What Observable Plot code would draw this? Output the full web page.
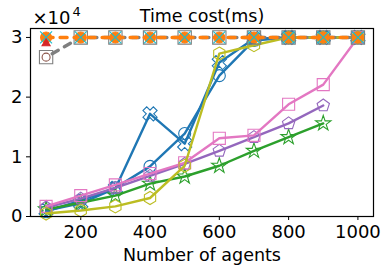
<!DOCTYPE html>
<html>
<head>
<meta charset="utf-8">
<script src="https://cdn.jsdelivr.net/npm/d3@7"></script>
<script src="https://cdn.jsdelivr.net/npm/@observablehq/plot@0.6"></script>
<style>
  html, body { margin: 0; padding: 0; background: white; }
</style>
</head>
<body>
<div id="chart"></div>
<script>
// ---- data ----
const agents = [100, 200, 300, 400, 500, 600, 700, 800, 900, 1000];
const xTicks = [200, 400, 600, 800, 1000];
const yTicks = [0, 10000, 20000, 30000];

const blueX   = [1000, 2200, 4700, 17200, 12200, 25800, 29800, 30000, 30000, 30000];
const blueO   = [800, 2700, 4800, 8400, 13900, 23600, 29500, 30000, 30000, 30000];
const olive   = [500, 1000, 1700, 3100, 8500, 27300, 28700, 30000, 30000, 30000];
const green   = [1200, 2300, 3500, 5500, 6700, 8500, 11000, 13300, 15600];
const purple  = [1500, 3000, 4800, 6800, 8800, 11000, 13300, 15600, 18600];
const pink    = [1700, 3500, 5300, 7200, 9000, 13100, 13600, 18800, 22100, 30000];
const gray    = [26700, 30000, 30000, 30000, 30000, 30000, 30000, 30000, 30000, 30000];
const orange  = [30000, 30000, 30000, 30000, 30000, 30000, 30000, 30000, 30000, 30000];
const cyan    = [30000, 30000, 30000, 30000, 30000, 30000, 30000, 30000, 30000, 30000];
const red     = [29000];
const brown   = [26700];

const title = "Time cost(ms)";
const xLabel = "Number of agents";

// ---- custom marker shapes ----
function polySymbol(pts) {
  return {
    draw(ctx, size) {
      const r = Math.sqrt(size / Math.PI);
      pts.forEach(([a, b], i) => i ? ctx.lineTo(a * r, b * r) : ctx.moveTo(a * r, b * r));
      ctx.closePath();
    }
  };
}
function regular(n, rot) {
  return d3.range(n).map(i => {
    const a = rot + i * 2 * Math.PI / n;
    return [Math.cos(a), Math.sin(a)];
  });
}
const pentagon = polySymbol(regular(5, -Math.PI / 2));
const hexagon = polySymbol(regular(6, -Math.PI / 2));
const xShape = (() => {
  const w = 0.36;
  const plus = [[w, 1], [w, w], [1, w], [1, -w], [w, -w], [w, -1], [-w, -1], [-w, -w], [-1, -w], [-1, w], [-w, w], [-w, 1]];
  const c = Math.SQRT1_2;
  return polySymbol(plus.map(([a, b]) => [(a - b) * c * 1.05, (a + b) * c * 1.05]));
})();

const toRows = (vals, name) => vals.map((v, i) => ({x: agents[i], y: v, s: name}));
const rBlueX = toRows(blueX, "bx");
const rBlueO = toRows(blueO, "bo");
const rOlive = toRows(olive, "ol");
const rGreen = toRows(green, "gr");
const rPurple = toRows(purple, "pu");
const rPink = toRows(pink, "pk");
const rGray = toRows(gray, "gy");
const rOrange = toRows(orange, "or");
const rCyan = toRows(cyan, "cy");
const rRed = toRows(red, "rd");
const rBrown = toRows(brown, "br");

const C = {
  blue: "#1f77b4", orange: "#ff7f0e", green: "#2ca02c", red: "#d62728",
  purple: "#9467bd", brown: "#8c564b", pink: "#e377c2", gray: "#7f7f7f",
  olive: "#bcbd22", cyan: "#17becf"
};

function series(rows, color, symbol, r, lineOpts = {}) {
  const marks = [];
  if (lineOpts.show !== false) {
    marks.push(Plot.line(rows, {x: "x", y: "y", stroke: color, strokeWidth: lineOpts.width ?? 2.4,
      strokeDasharray: lineOpts.dash, strokeDashoffset: lineOpts.offset}));
  }
  marks.push(Plot.dot(rows, {x: "x", y: "y", symbol: () => symbol, r, fill: lineOpts.fill ?? "none",
    stroke: color, strokeWidth: 1.1}));
  return marks;
}

const chart = Plot.plot({
  width: 391,
  height: 273,
  marginTop: 28,
  marginLeft: 30,
  marginRight: 18,
  marginBottom: 57,
  style: {fontFamily: "DejaVu Sans", fontSize: "18px", background: "white", color: "black"},
  x: {domain: [55, 1045]},
  y: {domain: [0, 31500]},
  symbol: {type: "identity"},
  marks: [
    Plot.axisX({ticks: xTicks, tickSize: 4, tickPadding: 5, tickFormat: d => String(d), label: null, fontSize: 18}),
    Plot.axisY({ticks: yTicks, tickFormat: d => String(d / 10000), tickSize: 4, tickPadding: 4, label: null, fontSize: 18}),
    ...series(rBlueX, C.blue, xShape, 7),
    ...series(rBlueO, C.blue, "circle", 6),
    ...series(rGreen, C.green, "star", 4.8),
    ...series(rPurple, C.purple, pentagon, 6.5),
    ...series(rPink, C.pink, "square", 6.8),
    ...series(rOlive, C.olive, hexagon, 6.5),
    ...series(rGray, C.gray, "square", 7.5, {dash: "7,7", offset: 7, width: 3.4}),
    ...series(rBrown, C.brown, "circle", 4, {show: false}),
    ...series(rOrange, C.orange, "circle", 5.5, {dash: "7,7", width: 3.4, fill: C.orange}),
    ...series(rCyan, C.cyan, "times", 5.5, {show: false}),
    ...series(rRed, C.red, "triangle", 3, {show: false, fill: C.red}),
    Plot.frame({stroke: "black", strokeWidth: 1.2}),
    Plot.text([title], {frameAnchor: "top", lineAnchor: "middle", dy: -12, fontSize: 17.5}),
    Plot.text(["×10"], {frameAnchor: "top-left", textAnchor: "start", lineAnchor: "middle", dx: 2, dy: -10, fontSize: 18}),
    Plot.text(["4"], {frameAnchor: "top-left", textAnchor: "start", lineAnchor: "middle", dx: 42, dy: -17, fontSize: 13}),
    Plot.text([xLabel], {frameAnchor: "bottom", lineAnchor: "middle", dy: 39, fontSize: 17.5})
  ]
});
document.getElementById("chart").appendChild(chart);
</script>
</body>
</html>
